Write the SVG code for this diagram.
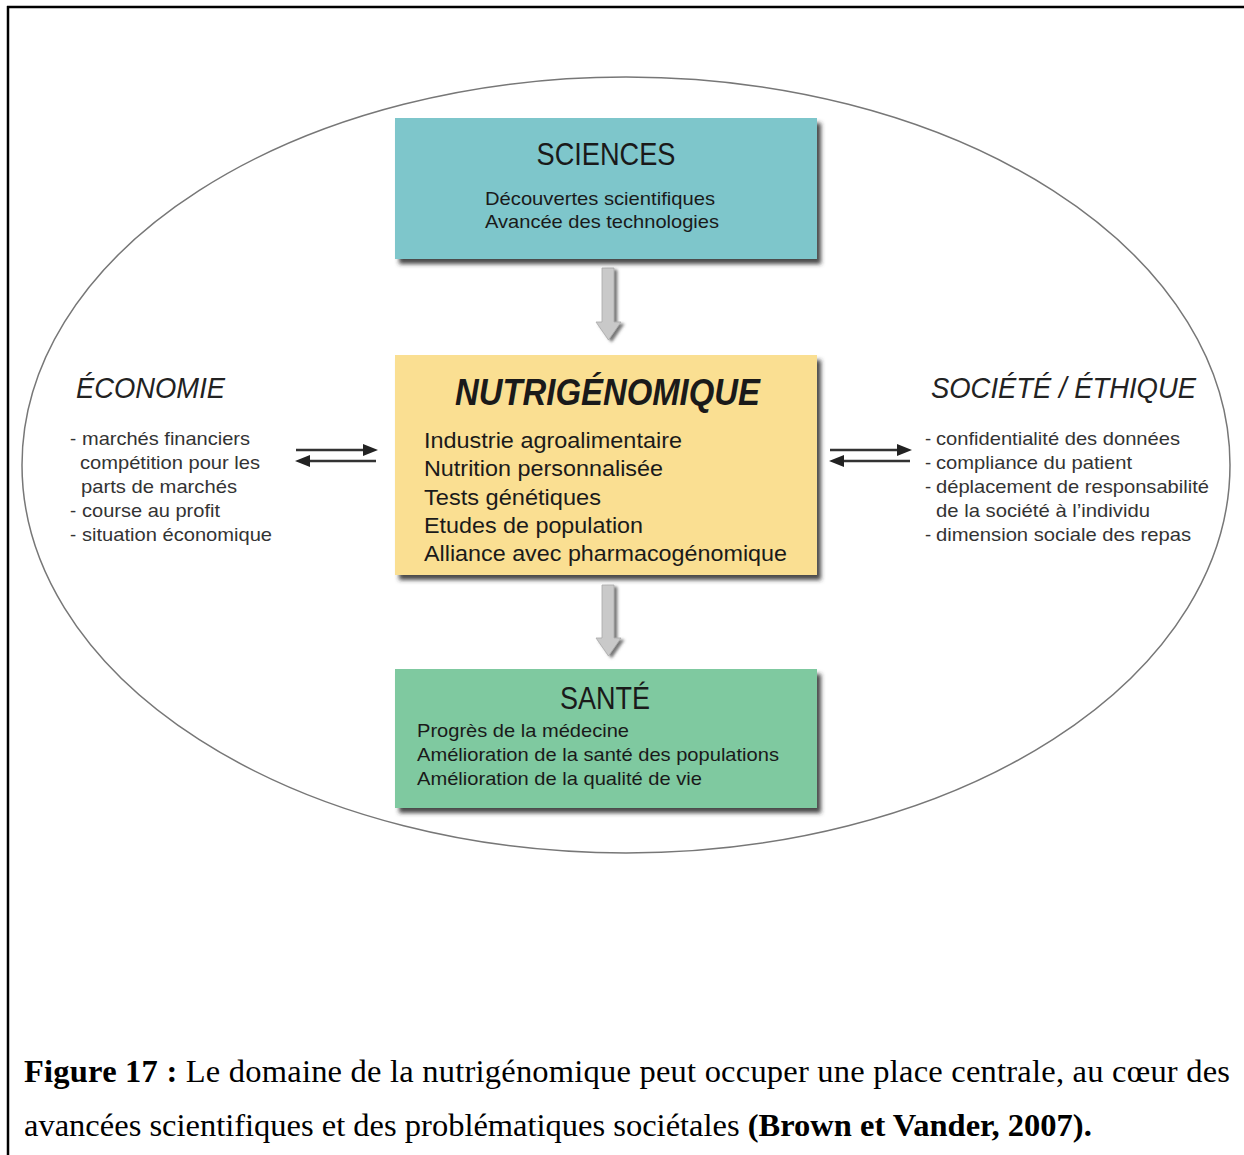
<svg xmlns="http://www.w3.org/2000/svg" width="1244" height="1155" viewBox="0 0 1244 1155">
<style>
.sans{font-family:"Liberation Sans",Arial,sans-serif;fill:#1a1a1a}
.title{font-size:31px}
.item{font-size:19px}
.mid{font-size:21.5px}
.side{font-size:18.5px;fill:#333}
.sidet{font-size:30px;font-style:italic;fill:#222}
.cap{font-family:"Liberation Serif","Times New Roman",serif;font-size:32.5px;fill:#000}
.b{font-weight:bold}
.dbl{stroke:#333;stroke-width:2.5;fill:none}
.head{fill:#222}
.varrow{fill:#c9c9c9;stroke:#aaa;stroke-width:0.8}
</style>
<defs>
<filter id="sh" x="-5%" y="-5%" width="115%" height="125%">
<feDropShadow dx="4" dy="5" stdDeviation="2" flood-color="#2a2a2a" flood-opacity="0.85"/>
</filter>
<filter id="ash" x="-50%" y="-10%" width="200%" height="130%">
<feDropShadow dx="3" dy="2" stdDeviation="1.5" flood-color="#555" flood-opacity="0.8"/>
</filter>
</defs>
<rect width="1244" height="1155" fill="#fff"/>
<g id="frame">
<line x1="7" y1="7" x2="1244" y2="7" stroke="#000" stroke-width="2.5"/>
<line x1="8" y1="6" x2="8" y2="1155" stroke="#000" stroke-width="2.5"/>
</g>
<g id="ellipse">
<ellipse cx="626" cy="465" rx="604" ry="388" fill="none" stroke="#777" stroke-width="1.5"/>
</g>
<g id="connectors">
<path class="varrow" filter="url(#ash)" d="M602,268 H614 V322 H621 L608.5,340 L596,322 H602 Z"/>
<path class="varrow" filter="url(#ash)" d="M602,585 H614 V638 H621 L608.5,656 L596,638 H602 Z"/>
<line class="dbl" x1="296" y1="450" x2="365" y2="450"/>
<polygon class="head" points="378,450 363,444 363,456"/>
<line class="dbl" x1="308" y1="461" x2="376" y2="461"/>
<polygon class="head" points="295,461 310,455 310,467"/>
<line class="dbl" x1="830" y1="450" x2="899" y2="450"/>
<polygon class="head" points="912,450 897,444 897,456"/>
<line class="dbl" x1="842" y1="461" x2="910" y2="461"/>
<polygon class="head" points="829,461 844,455 844,467"/>
</g>
<g id="sciences">
<rect x="395" y="118" width="422" height="141" fill="#7ec6cb" filter="url(#sh)"/>
<text class="sans title" x="606" y="165" text-anchor="middle" textLength="139" lengthAdjust="spacingAndGlyphs">SCIENCES</text>
<text class="sans item" x="485" y="205" textLength="230" lengthAdjust="spacingAndGlyphs">Découvertes scientifiques</text>
<text class="sans item" x="485" y="228" textLength="234" lengthAdjust="spacingAndGlyphs">Avancée des technologies</text>
</g>
<g id="nutrigenomique">
<rect x="395" y="355" width="422" height="220" fill="#fadf92" filter="url(#sh)"/>
<text class="sans b" font-style="italic" font-size="36" x="455" y="405" textLength="305" lengthAdjust="spacingAndGlyphs" fill="#000">NUTRIGÉNOMIQUE</text>
<text class="sans mid" x="424" y="448" textLength="258" lengthAdjust="spacingAndGlyphs">Industrie agroalimentaire</text>
<text class="sans mid" x="424" y="476" textLength="239" lengthAdjust="spacingAndGlyphs">Nutrition personnalisée</text>
<text class="sans mid" x="424" y="505" textLength="177" lengthAdjust="spacingAndGlyphs">Tests génétiques</text>
<text class="sans mid" x="424" y="533" textLength="219" lengthAdjust="spacingAndGlyphs">Etudes de population</text>
<text class="sans mid" x="424" y="561" textLength="363" lengthAdjust="spacingAndGlyphs">Alliance avec pharmacogénomique</text>
</g>
<g id="sante">
<rect x="395" y="669" width="422" height="139" fill="#7fc9a0" filter="url(#sh)"/>
<text class="sans title" x="605" y="709" text-anchor="middle" textLength="90" lengthAdjust="spacingAndGlyphs">SANTÉ</text>
<text class="sans item" x="417" y="737" textLength="212" lengthAdjust="spacingAndGlyphs">Progrès de la médecine</text>
<text class="sans item" x="417" y="761" textLength="362" lengthAdjust="spacingAndGlyphs">Amélioration de la santé des populations</text>
<text class="sans item" x="417" y="785" textLength="285" lengthAdjust="spacingAndGlyphs">Amélioration de la qualité de vie</text>
</g>
<g id="economie">
<text class="sans sidet" x="76" y="398" textLength="149" lengthAdjust="spacingAndGlyphs">ÉCONOMIE</text>
<text class="sans side" x="70" y="445">-</text>
<text class="sans side" x="82" y="445" textLength="168" lengthAdjust="spacingAndGlyphs">marchés financiers</text>
<text class="sans side" x="80" y="469" textLength="180" lengthAdjust="spacingAndGlyphs">compétition pour les</text>
<text class="sans side" x="81" y="493" textLength="156" lengthAdjust="spacingAndGlyphs">parts de marchés</text>
<text class="sans side" x="70" y="517">-</text>
<text class="sans side" x="82" y="517" textLength="138" lengthAdjust="spacingAndGlyphs">course au profit</text>
<text class="sans side" x="70" y="541">-</text>
<text class="sans side" x="82" y="541" textLength="190" lengthAdjust="spacingAndGlyphs">situation économique</text>
</g>
<g id="societe">
<text class="sans sidet" x="931" y="398" textLength="265" lengthAdjust="spacingAndGlyphs">SOCIÉTÉ / ÉTHIQUE</text>
<text class="sans side" x="925" y="445">-</text>
<text class="sans side" x="936" y="445" textLength="244" lengthAdjust="spacingAndGlyphs">confidentialité des données</text>
<text class="sans side" x="925" y="469">-</text>
<text class="sans side" x="936" y="469" textLength="196" lengthAdjust="spacingAndGlyphs">compliance du patient</text>
<text class="sans side" x="925" y="493">-</text>
<text class="sans side" x="936" y="493" textLength="273" lengthAdjust="spacingAndGlyphs">déplacement de responsabilité</text>
<text class="sans side" x="936" y="517" textLength="214" lengthAdjust="spacingAndGlyphs">de la société à l’individu</text>
<text class="sans side" x="925" y="541">-</text>
<text class="sans side" x="936" y="541" textLength="255" lengthAdjust="spacingAndGlyphs">dimension sociale des repas</text>
</g>
<g id="caption">
<text class="cap" x="24" y="1082" textLength="1206" lengthAdjust="spacing"><tspan class="b">Figure 17 :</tspan> Le domaine de la nutrigénomique peut occuper une place centrale, au cœur des</text>
<text class="cap" x="24" y="1136">avancées scientifiques et des problématiques sociétales <tspan class="b">(Brown et Vander, 2007).</tspan></text>
</g>
</svg>
